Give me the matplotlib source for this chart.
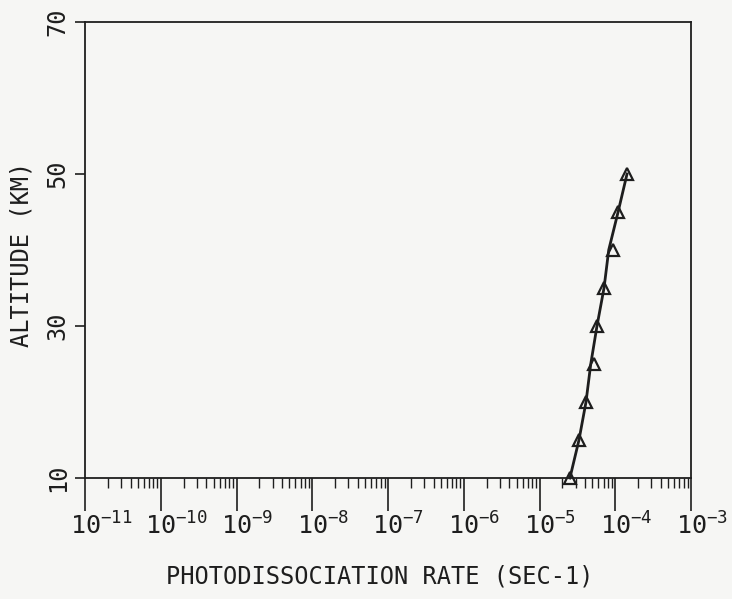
"""Photodissociation rate vs altitude, redrawn from an old plotter figure."""

import matplotlib
matplotlib.use("Agg")
import matplotlib.pyplot as plt
import numpy as np
from matplotlib.ticker import FixedLocator, LogLocator, NullFormatter
from matplotlib.transforms import ScaledTranslation

# altitude (km) of each triangle and the rate (1/s)
altitude = [10, 15, 20, 25, 30, 35, 40, 45, 50]
rate = [2.52e-5, 3.32e-5, 4.11e-5, 5.25e-5, 5.74e-5, 7.11e-5, 9.35e-5, 1.09e-4, 1.43e-4]
# the drawn curve runs a little left of a couple of the triangles
curve_rate = [2.52e-5, 3.32e-5, 4.11e-5, 4.75e-5, 5.74e-5, 7.11e-5, 8.2e-5, 1.09e-4, 1.43e-4]

x_exps = [-11, -10, -9, -8, -7, -6, -5, -4, -3]
y_ticks = [10, 30, 50, 70]

paper = "#f6f6f4"
ink = "#1e1e1e"

# plotter lettering is fixed width, so a mono face is the closer match
plt.rcParams["font.family"] = ["DejaVu Sans Mono"]
plt.rcParams["mathtext.fontset"] = "custom"
plt.rcParams["mathtext.rm"] = "DejaVu Sans Mono"
plt.rcParams["mathtext.default"] = "regular"

fig = plt.figure(figsize=(7.32, 5.99), dpi=100, facecolor=paper)
ax = fig.add_axes([85 / 732, 1 - 478 / 599, 606 / 732, 456 / 599], facecolor=paper)

ax.plot(curve_rate, altitude, color=ink, lw=2.0, zorder=3, clip_on=False)
ax.plot(rate, altitude, linestyle="none", marker="^", markersize=8,
        markerfacecolor="none", markeredgecolor=ink, markeredgewidth=1.6,
        zorder=4, clip_on=False)

ax.set_xscale("log")
ax.set_xlim(10.0 ** x_exps[0], 10.0 ** x_exps[-1])
ax.set_ylim(y_ticks[0], y_ticks[-1])

for s in ax.spines.values():
    s.set_color(ink)
    s.set_linewidth(1.3)

# x axis: long major ticks hanging down, short minor ticks
ax.xaxis.set_major_locator(FixedLocator([10.0 ** e for e in x_exps]))
ax.xaxis.set_minor_locator(LogLocator(base=10, subs=np.arange(2, 10), numticks=100))
ax.xaxis.set_minor_formatter(NullFormatter())
ax.set_xticklabels([f"$10^{{{e}}}$" for e in x_exps])
ax.tick_params(axis="x", which="major", direction="out", length=24, width=1.2,
               color=ink, labelsize=18, labelcolor=ink, pad=1)
ax.tick_params(axis="x", which="minor", direction="out", length=7, width=1.0, color=ink)
shift = ScaledTranslation(-0.155, 0, fig.dpi_scale_trans)
for lab in ax.get_xticklabels():
    lab.set_horizontalalignment("left")
    lab.set_transform(lab.get_transform() + shift)

# y axis: rotated labels, short outward ticks
ax.set_yticks(y_ticks)
ax.set_yticklabels([str(v) for v in y_ticks], rotation=90, va="center")
ax.tick_params(axis="y", which="major", direction="out", length=7, width=1.2,
               color=ink, labelsize=17, labelcolor=ink, pad=4)

ax.set_ylabel("ALTITUDE (KM)", fontsize=17, color=ink)
ax.yaxis.set_label_coords(-0.085, 0.49)
ax.set_xlabel("PHOTODISSOCIATION RATE (SEC-1)", fontsize=17, color=ink)
ax.xaxis.set_label_coords(0.487, -0.19)

fig.savefig("out.png", dpi=100, facecolor=paper)
